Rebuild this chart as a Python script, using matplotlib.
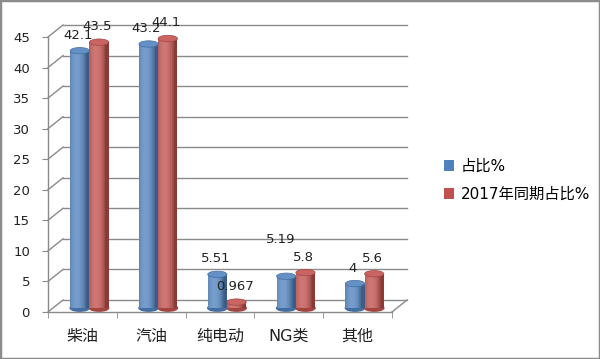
import numpy as np
import matplotlib
matplotlib.use('Agg')
import matplotlib.pyplot as plt
from matplotlib.patches import Ellipse, Patch, Rectangle

plt.rcParams['font.family'] = ['DejaVu Sans', 'Noto Sans CJK SC']

# data
categories = ['柴油', '汽油', '纯电动', 'NG类', '其他']
share = [42.1, 43.2, 5.51, 5.19, 4]
share_2017 = [43.5, 44.1, 0.967, 5.8, 5.6]
series_names = ['占比%', '2017年同期占比%']
yticks = [0, 5, 10, 15, 20, 25, 30, 35, 40, 45]

blue = np.array([0x4F, 0x81, 0xBD]) / 255
red = np.array([0xC0, 0x50, 0x4D]) / 255
grid_c = '#8a8a8a'

fig = plt.figure(figsize=(6, 3.59), dpi=100)
ax = fig.add_axes([48 / 600, 47 / 359, 344 / 600, 275 / 359])
ax.set_xlim(-0.5, 4.5)
ax.set_ylim(0, 45)

# 3D depth offsets in data units (back wall and bar row)
px_x = 344 / 5
px_y = 275 / 45
back_dx, back_dy = 15 / px_x, 12 / px_y
mid_dx, mid_dy = 7 / px_x, 4 / px_y

# back wall gridlines and side diagonals
for y in yticks:
    ax.plot([-0.5 + back_dx, 4.5 + back_dx], [y + back_dy, y + back_dy],
            color=grid_c, lw=1, clip_on=False, zorder=1)
    ax.plot([-0.5, -0.5 + back_dx], [y, y + back_dy],
            color=grid_c, lw=1, clip_on=False, zorder=1)
# floor right edge
ax.plot([4.5, 4.5 + back_dx], [0, back_dy], color=grid_c, lw=1, clip_on=False, zorder=1)


def shade(base, t):
    theta = (t - 0.5) * np.pi
    s = np.clip(np.cos(theta + 0.5), 0, 1) ** 0.7
    dark = base * 0.72
    light = base + (1 - base) * 0.22
    return dark + (light - dark) * s[:, None]


def cylinder(c, v, w, base):
    n = 30
    t = (np.arange(n) + 0.5) / n
    xs = c - w / 2 + t * w
    cols = shade(base, t)
    eh = 1.05
    ax.add_patch(Ellipse((c, mid_dy), w, eh, color=base * 0.85, zorder=2, clip_on=False))
    ax.bar(xs, [v] * n, width=w / n * 1.05, bottom=mid_dy, color=cols,
           linewidth=0, zorder=3, clip_on=False)
    ax.add_patch(Ellipse((c, mid_dy + v), w, eh, facecolor=base + (1 - base) * 0.12,
                         edgecolor=base * 0.85, lw=0.5, zorder=4, clip_on=False))


w = 0.28
label_off = {(3, 0): (-5, 37)}
for i in range(len(categories)):
    for j, (vals, base) in enumerate([(share, blue), (share_2017, red)]):
        c = i + mid_dx + (j - 0.5) * w
        v = vals[i]
        cylinder(c, v, w, base)
        off = label_off.get((i, j), (-2, 15.5))
        ax.annotate('{:g}'.format(v), (c, mid_dy + v), xytext=off,
                    textcoords='offset pixels', ha='center', va='center',
                    fontsize=9.5, color='#222222', zorder=6, annotation_clip=False)

# axes styling
for s in ['top', 'right']:
    ax.spines[s].set_visible(False)
for s in ['left', 'bottom']:
    ax.spines[s].set_color(grid_c)
    ax.spines[s].set_linewidth(1)
ax.set_facecolor('none')
ax.set_yticks(yticks)
ax.tick_params(axis='y', length=4, color=grid_c, pad=9, labelsize=9.5, labelcolor='#222222')
ax.set_xticks(range(len(categories)))
ax.set_xticklabels(categories)
ax.tick_params(axis='x', length=0, pad=12, labelsize=11.5, labelcolor='#222222')
ax.set_xticks(np.arange(-0.5, 5, 1), minor=True)
ax.tick_params(axis='x', which='minor', length=4, color=grid_c)

handles = [Patch(facecolor=blue), Patch(facecolor=red)]
fig.legend(handles, series_names, loc='upper left', bbox_to_anchor=(430 / 600, 1 - 145 / 359),
           frameon=False, handlelength=0.7, handleheight=0.7, handletextpad=0.4,
           labelspacing=0.85, fontsize=11)

fig.add_artist(Rectangle((0, 0), 1, 1, transform=fig.transFigure, fill=False,
                         ec='#8c8c8c', lw=2.5))

fig.savefig('out.png', dpi=100)
